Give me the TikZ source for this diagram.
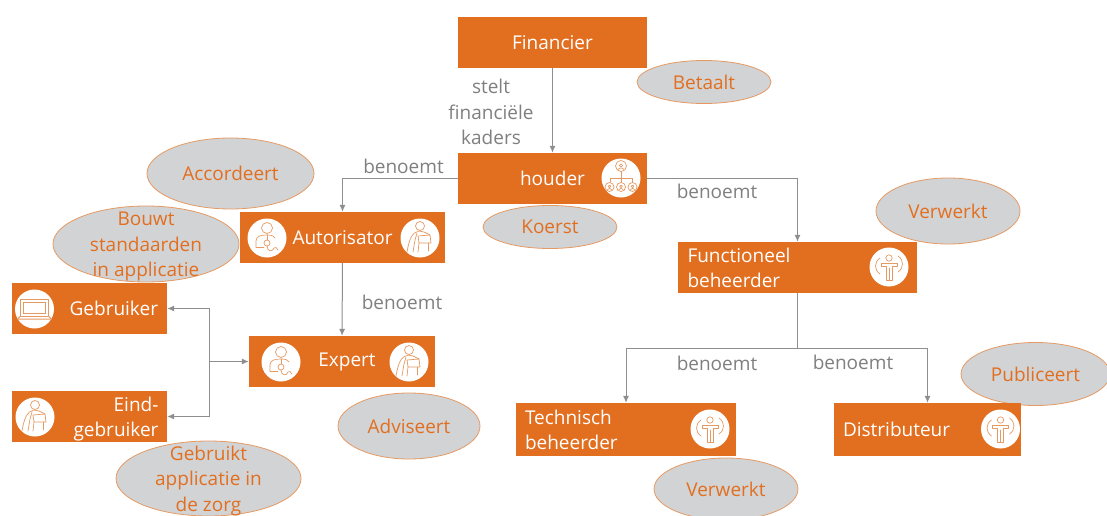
\documentclass[tikz,border=0pt]{standalone}
\usepackage{fontspec}
\setmainfont{Open Sans}
\usetikzlibrary{shapes.geometric,arrows.meta}
\definecolor{oranje}{HTML}{E26F20}
\definecolor{lijn}{HTML}{8C8E90}
\definecolor{tekst}{HTML}{7F7F7F}
\definecolor{ovaal}{HTML}{D2D3D5}
\definecolor{rand}{HTML}{E59A63}
\newcommand{\txt}{\fontsize{19}{25.2}\selectfont}
\tikzset{
  x=1pt,y=-1pt,
  boxnode/.style={fill=oranje,draw=none,rectangle,inner ysep=0pt,text=white,font=\txt},
  boxc/.style 2 args={boxnode,minimum width=#1,minimum height=#2,inner xsep=0pt,align=center},
  boxl/.style n args={3}{boxnode,minimum height=#2,inner xsep=#3,text width=#1-2*#3,align=left},
  boxr/.style n args={3}{boxnode,minimum height=#2,inner xsep=#3,text width=#1-2*#3,align=right},
  boxtxt/.style={text=white,font=\txt,align=right,inner sep=0pt},
  oval/.style 2 args={ellipse,fill=ovaal,draw=rand,line width=0.8pt,minimum width=#1,minimum height=#2,inner sep=0pt},
  ovaltxt/.style={text=oranje,font=\txt,align=center,inner sep=0pt},
  rel/.style={text=tekst,font=\txt,align=center,inner sep=0pt},
  conn/.style={draw=lijn,line width=1pt,-{Latex[length=7pt,width=6pt]}},
  connplain/.style={draw=lijn,line width=1pt},
  disc/.style={circle,fill=white,draw=none,inner sep=0pt,minimum size=#1},
  ink/.style={draw=rand,line width=0.7pt,fill=none,line cap=round,line join=round},
  pics/dokter/.style={code={
    \draw[ink] (0,-10) circle (5.5);
    \draw[ink] (-11,9) -- (-11,3) .. controls (-11,-2) and (-6,-3) .. (0,-3) .. controls (5,-3) and (7,-2) .. (8,0);
    \draw[ink] (-11,9) -- (-3,9);
    \draw[ink] (0,-3) -- (0,2);
    \draw[ink] (0,5) circle (3);
    \draw[ink] (0,8) .. controls (0,14) and (6,14) .. (7,10) .. controls (8,8) and (10,10) .. (11,12);
  }},
  pics/zitter/.style={code={
    \draw[ink] (0,-12) circle (4.5);
    \draw[ink] (-13,14) .. controls (-11,2) and (-8,-6) .. (-1,-7) -- (4,-6) -- (10,-3);
    \draw[ink] (-7,14) -- (-5,2) -- (-3,-5);
    \draw[ink] (-2,-2) -- (10,-3) -- (11,5) -- (-1,5) -- cycle;
    \draw[ink] (-1,5) -- (-2,14);
    \draw[ink] (8,5) -- (8,13);
  }},
  pics/laptop/.style={code={
    \draw[draw=rand,line width=1pt,line join=round] (-14,-10) rectangle (14,7);
    \draw[draw=rand,line width=0.7pt] (-11,-7) rectangle (11,4);
    \draw[draw=rand,line width=1pt,line join=round] (-14,7) -- (-17,10) -- (17,10) -- (14,7);
  }},
  pics/organisatie/.style={code={
    \draw[ink] (0,-12) circle (5.5);
    \draw[ink] (0,-12.5) circle (1.6);
    \draw[ink] (-2.8,-8.5) .. controls (-2,-10.5) and (2,-10.5) .. (2.8,-8.5);
    \draw[ink] (0,-6.5) -- (0,4);
    \draw[ink] (-11,4) -- (-11,0) -- (11,0) -- (11,4);
    \foreach \p in {-11.5,0,11.5}{
      \draw[ink] (\p,9) circle (4.5);
      \draw[ink] (\p,8.3) circle (1.3);
      \draw[ink] (\p-2,11.5) .. controls (\p-1,10) and (\p+1,10) .. (\p+2,11.5);
    }
  }},
  pics/draaier/.style={code={
    \draw[ink] (0,-9) circle (3.2);
    \draw[ink] (-8,-4) -- (8,-4) -- (8,-1) -- (3,-1) -- (3,13) -- (-3,13) -- (-3,-1) -- (-8,-1) -- cycle;
    \draw[ink] (0,1) -- (0,13);
    \draw[ink] (-9,-9) .. controls (-15,-5) and (-15,3) .. (-9,7);
    \draw[ink] (9,-11) .. controls (15,-7) and (15,1) .. (9,5);
  }},
}
\begin{document}
\begin{tikzpicture}
\useasboundingbox (0,0) rectangle (1107,516);

% ovals
\node[oval={167}{71},label={[ovaltxt]center:Accordeert}] (accordeert) at (230.5,173.5) {};
\node[oval={186}{76},label={[ovaltxt,yshift=-2.5pt]center:Bouwt\\standaarden\\in applicatie}] (bouwt) at (146,244) {};
\node[oval={134}{43},label={[ovaltxt]center:Betaalt}] (betaalt) at (704,82) {};
\node[oval={134}{43},label={[ovaltxt]center:Koerst}] (koerst) at (550,227) {};
\node[oval={144}{66},label={[ovaltxt]center:Verwerkt}] (verwerkt1) at (948,211) {};
\node[oval={142}{66},label={[ovaltxt]center:Adviseert}] (adviseert) at (409,426) {};
\node[oval={185}{75},label={[ovaltxt,yshift=-2.5pt]center:Gebruikt\\applicatie in\\de zorg}] (gebruikt) at (208.5,478.5) {};
\node[oval={144}{62},label={[ovaltxt]center:Verwerkt}] (verwerkt2) at (726,489) {};
\node[oval={149}{63},label={[ovaltxt]center:Publiceert}] (publiceert) at (1035.5,374) {};

% boxes
\node[boxc={189}{51}] (financier) at (552.5,42.5) {Financier};
\node[boxc={189}{51}] (houder) at (552.5,178.5) {houder};
\node[boxc={205}{51}] (autorisator) at (342.5,237.5) {\raisebox{-1pt}{Autorisator}};
\node[boxr={155}{51}{9}] (gebruiker) at (89.5,308.5) {\raisebox{-1pt}{Gebruiker}};
\node[boxc={186}{51}] (expert) at (342,361.5) {\hspace*{10pt}\raisebox{-2pt}{Expert}};
\node[boxc={155}{51},label={[boxtxt,xshift=26.5pt,yshift=-2.5pt]center:Eind-\\gebruiker}] (eind) at (89.5,416.5) {};
\node[boxl={239}{51}{9.5}] (functioneel) at (797.5,267.5) {Functioneel\\beheerder};
\node[boxl={220}{53}{9}] (technisch) at (626,429.5) {Technisch\\beheerder};
\node[boxl={187}{53}{9}] (distributeur) at (927.5,429.5) {\raisebox{-1pt}{Distributeur}};

% icons
\node[disc=39pt] (i1) at (267,238) {}; \pic at (i1.center) {dokter};
\node[disc=39pt] (i2) at (420,238) {}; \pic at (i2.center) {zitter};
\node[disc=39pt] (i3) at (34.5,309) {}; \pic at (i3.center) {laptop};
\node[disc=39pt] (i4) at (281,362) {}; \pic at (i4.center) {dokter};
\node[disc=39pt] (i5) at (409,362) {}; \pic at (i5.center) {zitter};
\node[disc=39pt] (i6) at (35,417) {}; \pic at (i6.center) {zitter};
\node[disc=39pt] (i7) at (621,178) {}; \pic at (i7.center) {organisatie};
\node[disc=39pt] (i8) at (889,267) {}; \pic at (i8.center) {draaier};
\node[disc=39pt] (i9) at (710,429) {}; \pic at (i9.center) {draaier};
\node[disc=39pt] (i10) at (1000.5,429) {}; \pic at (i10.center) {draaier};

% connectors
\coordinate (splitL) at (209,361.5);
\coordinate (splitR) at (797.5,348);
\draw[conn] (financier) -- (houder);
\draw[conn] (houder.west) -| (autorisator.north);
\draw[conn] (autorisator) -- (expert);
\draw[conn] (houder.east) -| (functioneel.north);
\draw[connplain] (functioneel.south) -- (splitR);
\draw[conn] (splitR) -| (technisch.north);
\draw[conn] (splitR) -| (distributeur.north);
\draw[conn] (splitL) -- (expert.west);
\draw[conn] (splitL) |- (gebruiker.east);
\draw[conn] (splitL) |- (eind.east);

% connector labels
\node[rel] (l1) at (491,112) {stelt\\financiële\\kaders};
\node[rel] (l2) at (403.5,166) {benoemt};
\node[rel] (l3) at (717,191) {benoemt};
\node[rel] (l4) at (402,302) {benoemt};
\node[rel] (l5) at (717,363) {benoemt};
\node[rel] (l6) at (853,362) {benoemt};
\end{tikzpicture}
\end{document}
